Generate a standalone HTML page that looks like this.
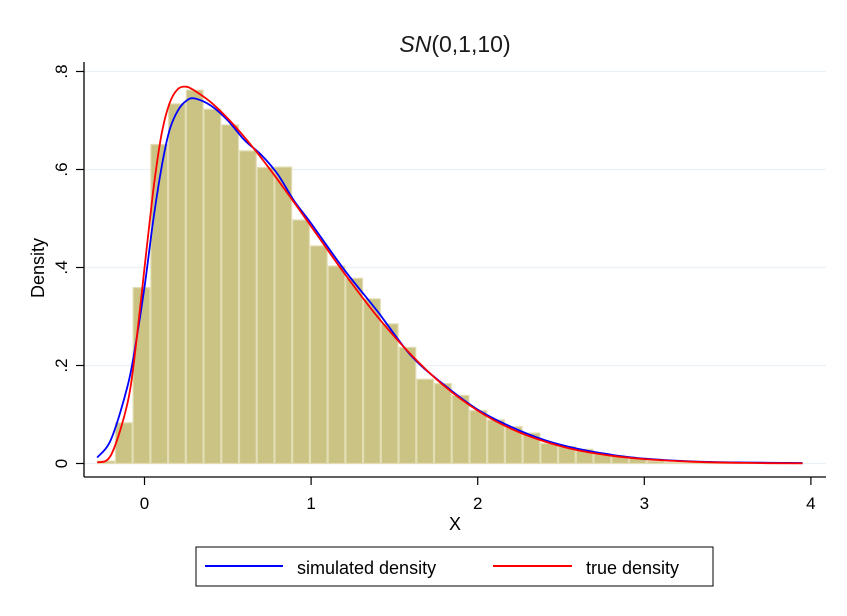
<!DOCTYPE html>
<html><head><meta charset="utf-8"><style>
body{margin:0;background:#fff;}
svg{display:block;font-family:"Liberation Sans",Arial,sans-serif;}
</style></head><body>
<svg id="chart" width="847" height="616" viewBox="0 0 847 616">
<rect width="847" height="616" fill="#fff"/>
<text x="455" y="52" font-size="23" text-anchor="middle" fill="#1a1a1a"><tspan font-style="italic">SN</tspan>(0,1,10)</text>
<g id="grid"></g>
<g id="bars"></g>
<g id="curves"></g>
<line x1="84" y1="62" x2="84" y2="477" stroke="#000" stroke-width="1.3"/>
<line x1="84" y1="477" x2="826" y2="477" stroke="#000" stroke-width="1.3"/>
<g id="ticks"></g>
<text x="455" y="530" font-size="18" text-anchor="middle" fill="#000">X</text>
<text transform="translate(44,268) rotate(-90)" font-size="18" text-anchor="middle" fill="#000">Density</text>
<g>
<rect x="196" y="547" width="517" height="39" fill="#fff" stroke="#000" stroke-width="1"/>
<line x1="205" y1="566" x2="283" y2="566" stroke="#0000ff" stroke-width="2"/>
<text x="297" y="574" font-size="18" fill="#000">simulated density</text>
<line x1="493" y1="566" x2="572" y2="566" stroke="#ff0000" stroke-width="2"/>
<text x="586" y="574" font-size="18" fill="#000">true density</text>
</g>
</svg>
<script>
const binStart = -0.284;
const binWidth = 0.1064;
const barHeights = [0.005,0.083,0.359,0.651,0.734,0.762,0.723,0.691,0.638,0.604,0.605,0.497,0.444,0.403,0.378,0.336,0.285,0.237,0.172,0.163,0.139,0.108,0.089,0.075,0.062,0.041,0.034,0.029,0.019,0.014,0.011,0.005,0.002,0.002,0.002,0.001,0.001,0.001,0.001];
const curveX = [-0.284,-0.2,-0.1,-0.05,0,0.05,0.1,0.15,0.2,0.25,0.3,0.4,0.5,0.6,0.7,0.8,0.9,1,1.2,1.4,1.6,1.8,2,2.2,2.4,2.6,2.8,3,3.3,3.6,3.95];
const trueY = [0.002,0.018,0.126,0.246,0.399,0.55,0.668,0.735,0.764,0.769,0.761,0.737,0.704,0.666,0.624,0.579,0.532,0.484,0.388,0.299,0.222,0.158,0.108,0.071,0.045,0.027,0.016,0.009,0.0034,0.0012,0.0003];
const simY = [0.012,0.05,0.16,0.25,0.36,0.49,0.6,0.68,0.72,0.74,0.745,0.73,0.70,0.66,0.63,0.59,0.535,0.49,0.395,0.31,0.22,0.16,0.11,0.075,0.048,0.03,0.018,0.01,0.004,0.002,0.001];
const xTicks = [0,1,2,3,4];
const yTicks = [0,0.2,0.4,0.6,0.8];
const yTickLabels = ["0",".2",".4",".6",".8"];

const NS="http://www.w3.org/2000/svg";
const sx = v => 144.5 + v*166.6;
const sy = v => 463.5 - v*490;
function mk(tag, attrs, parent){const e=document.createElementNS(NS,tag);for(const k in attrs)e.setAttribute(k,attrs[k]);parent.appendChild(e);return e;}

const grid=document.getElementById('grid');
yTicks.forEach(t=>{
  const l=mk('line',{x1:85,x2:826,y1:sy(t),y2:sy(t),stroke:'#eaf0f3','stroke-width':1.3},grid);
  
  
});
const bars=document.getElementById('bars');
barHeights.forEach((h,i)=>{
  const x0=sx(binStart+i*binWidth), x1=sx(binStart+(i+1)*binWidth);
  const r=mk('rect',{x:x0+0.5,y:sy(h),width:x1-x0-1,height:sy(0)-sy(h),fill:'#cbc383',stroke:'#e2ddb4','stroke-width':1.2},bars);
  
  
});
const curves=document.getElementById('curves');
function path(ys){
  const p=curveX.map((x,i)=>[sx(x),sy(ys[i])]);
  let d='M'+p[0][0].toFixed(1)+','+p[0][1].toFixed(1);
  for(let i=0;i<p.length-1;i++){
    const p0=p[Math.max(0,i-1)],p1=p[i],p2=p[i+1],p3=p[Math.min(p.length-1,i+2)];
    const c1=[p1[0]+(p2[0]-p0[0])/6,p1[1]+(p2[1]-p0[1])/6];
    const c2=[p2[0]-(p3[0]-p1[0])/6,p2[1]-(p3[1]-p1[1])/6];
    d+=' C'+c1.map(v=>v.toFixed(1)).join(',')+' '+c2.map(v=>v.toFixed(1)).join(',')+' '+p2.map(v=>v.toFixed(1)).join(',');
  }
  return d;
}
const pb=mk('path',{d:path(simY),fill:'none',stroke:'#0000ff','stroke-width':1.8,'stroke-linejoin':'round'},curves);


const pr=mk('path',{d:path(trueY),fill:'none',stroke:'#ff0000','stroke-width':1.8,'stroke-linejoin':'round'},curves);



const ticks=document.getElementById('ticks');
xTicks.forEach(t=>{
  const l=mk('line',{x1:sx(t),x2:sx(t),y1:477,y2:485,stroke:'#000','stroke-width':1.2},ticks);
  
  
  const tx=mk('text',{x:sx(t),y:509,'font-size':17,'text-anchor':'middle',fill:'#000'},ticks);
  tx.textContent=String(t);
  
  
});
yTicks.forEach((t,i)=>{
  const l=mk('line',{x1:76,x2:84,y1:sy(t),y2:sy(t),stroke:'#000','stroke-width':1.2},ticks);
  
  
  const tx=mk('text',{transform:'translate(67,'+sy(t)+') rotate(-90)','font-size':17,'text-anchor':'middle',fill:'#000'},ticks);
  tx.textContent=yTickLabels[i];
  
  
});
</script>
</body></html>
